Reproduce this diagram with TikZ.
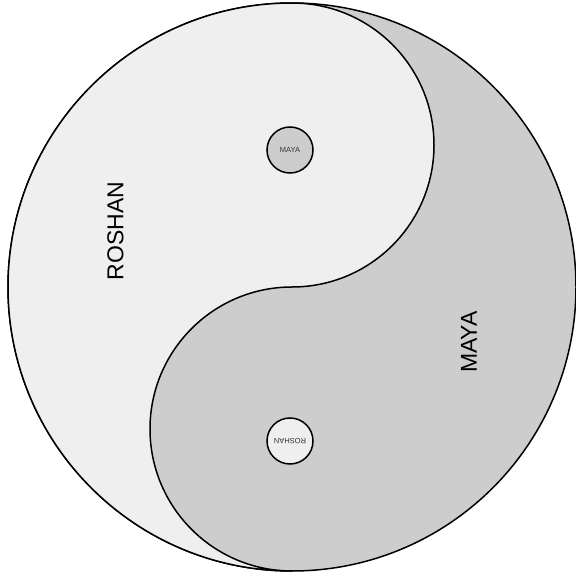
\documentclass[tikz,border=0pt]{standalone}
\usepackage{fontspec}
\setmainfont{Liberation Sans}
\definecolor{lightfill}{HTML}{EFEFEF}
\definecolor{darkfill}{HTML}{CDCDCD}
\begin{document}
\begin{tikzpicture}[x=1pt,y=1pt,
  outline/.style={draw=black,line width=1.5pt},
  dot/.style={circle,draw=black,line width=1.5pt,minimum size=46pt,inner sep=0pt,font=\fontsize{7.5}{8}\selectfont,text=black!80},
  biglabel/.style={font=\fontsize{23}{26}\selectfont,rotate=90,inner sep=0pt}]
\useasboundingbox (0,0) rectangle (576,574);
% dark half (whole disc)
\path[outline,fill=darkfill] (292,287) circle[radius=284];
% light half
\path[outline,fill=lightfill] (292,571) arc[start angle=90,end angle=270,radius=284]
  arc[start angle=270,end angle=90,radius=142]
  arc[start angle=-90,end angle=90,radius=142] -- cycle;
% eyes
\node[dot,fill=darkfill] (eyeMaya) at (290,424) {MAYA};
\node[dot,fill=lightfill,rotate=180] (eyeRoshan) at (290,133) {ROSHAN};
% labels
\node[biglabel] (roshan) at (115.5,343) {ROSHAN};
\node[biglabel] (maya) at (469,232) {MAYA};
\end{tikzpicture}
\end{document}
